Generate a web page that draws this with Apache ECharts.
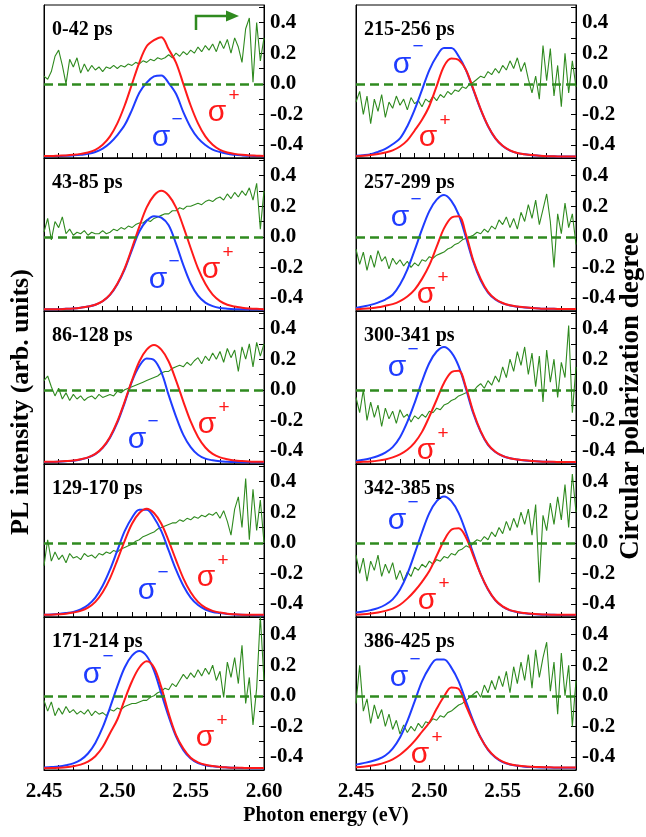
<!DOCTYPE html>
<html>
<head>
<meta charset="utf-8">
<script src="https://cdn.jsdelivr.net/npm/echarts@6/dist/echarts.min.js"></script>
<style>
html,body{margin:0;padding:0;background:#fff;overflow:hidden}
#chart{width:646px;height:837px}
</style>
</head>
<body>
<div id="chart"></div>
<script>
// ---------------- DATA ----------------
const energyPL = [2.450,2.455,2.460,2.465,2.470,2.475,2.480,2.485,2.490,2.495,2.500,2.505,2.510,2.515,2.520,2.525,2.530,2.535,2.540,2.545,2.550,2.555,2.560,2.565,2.570,2.575,2.580,2.585,2.590,2.595,2.600];
const energyCPD = [2.4500,2.4525,2.4550,2.4575,2.4600,2.4625,2.4650,2.4675,2.4700,2.4725,2.4750,2.4775,2.4800,2.4825,2.4850,2.4875,2.4900,2.4925,2.4950,2.4975,2.5000,2.5025,2.5050,2.5075,2.5100,2.5125,2.5150,2.5175,2.5200,2.5225,2.5250,2.5275,2.5300,2.5325,2.5350,2.5375,2.5400,2.5425,2.5450,2.5475,2.5500,2.5525,2.5550,2.5575,2.5600,2.5625,2.5650,2.5675,2.5700,2.5725,2.5750,2.5775,2.5800,2.5825,2.5850,2.5875,2.5900,2.5925,2.5950,2.5975,2.6000];

const xTickLabels = ['2.45','2.50','2.55','2.60'];
const cpdTickLabels = [-0.4,-0.2,0.0,0.2,0.4];
const cpdMinorTicks = [-0.4,-0.3,-0.2,-0.1,0.0,0.1,0.2,0.3,0.4,0.5];

// 0-42 ps
const plus_0_42  = [0.013,0.013,0.015,0.017,0.021,0.027,0.036,0.053,0.086,0.141,0.226,0.343,0.484,0.624,0.730,0.770,0.790,0.710,0.624,0.484,0.343,0.226,0.141,0.086,0.053,0.036,0.027,0.021,0.017,0.015,0.013];
const minus_0_42 = [0.011,0.012,0.013,0.014,0.017,0.021,0.027,0.039,0.061,0.098,0.150,0.215,0.315,0.427,0.493,0.533,0.540,0.490,0.420,0.300,0.200,0.130,0.085,0.055,0.039,0.027,0.021,0.017,0.014,0.013,0.012];
const cpd_0_42 = [0.05,0.03,0.08,0.18,0.22,0.12,0.00,0.16,0.11,0.17,0.07,0.13,0.08,0.12,0.09,0.11,0.08,0.11,0.10,0.12,0.10,0.12,0.11,0.13,0.12,0.14,0.13,0.15,0.14,0.16,0.15,0.17,0.16,0.17,0.19,0.17,0.20,0.18,0.21,0.19,0.22,0.20,0.24,0.21,0.25,0.22,0.26,0.21,0.28,0.23,0.29,0.20,0.30,0.24,0.14,0.36,0.43,0.01,0.40,0.15,0.30];

// 43-85 ps
const plus_43_85  = [0.012,0.012,0.012,0.014,0.017,0.022,0.029,0.041,0.065,0.107,0.178,0.279,0.412,0.552,0.677,0.755,0.786,0.755,0.677,0.552,0.412,0.279,0.178,0.107,0.065,0.041,0.029,0.022,0.017,0.014,0.012];
const minus_43_85 = [0.011,0.011,0.012,0.014,0.017,0.022,0.029,0.041,0.064,0.105,0.175,0.272,0.400,0.520,0.590,0.620,0.610,0.560,0.440,0.300,0.180,0.100,0.055,0.032,0.020,0.015,0.012,0.011,0.010,0.009,0.009];
const cpd_43_85 = [0.03,0.12,-0.02,0.10,0.06,0.13,0.02,0.05,0.01,0.03,0.02,0.04,0.01,0.03,0.02,0.02,0.04,0.02,0.03,0.05,0.04,0.06,0.05,0.07,0.06,0.08,0.09,0.09,0.11,0.10,0.12,0.13,0.14,0.15,0.15,0.17,0.17,0.19,0.18,0.20,0.20,0.21,0.22,0.21,0.23,0.24,0.23,0.25,0.26,0.24,0.28,0.25,0.29,0.26,0.30,0.27,0.32,0.24,0.35,0.05,0.30];

// 86-128 ps
const plus_86_128  = [0.014,0.014,0.016,0.019,0.023,0.031,0.043,0.066,0.108,0.177,0.278,0.408,0.547,0.670,0.747,0.778,0.747,0.670,0.547,0.408,0.278,0.177,0.108,0.066,0.043,0.031,0.023,0.019,0.016,0.014,0.014];
const minus_86_128 = [0.013,0.013,0.015,0.018,0.022,0.030,0.042,0.064,0.105,0.172,0.270,0.400,0.540,0.640,0.690,0.680,0.600,0.450,0.310,0.190,0.110,0.060,0.035,0.024,0.018,0.015,0.013,0.012,0.011,0.011,0.011];
const cpd_86_128 = [0.06,0.09,0.02,-0.04,0.01,-0.06,-0.02,-0.07,-0.03,-0.06,-0.04,-0.07,-0.05,-0.04,-0.06,-0.03,-0.05,-0.04,-0.03,-0.04,-0.01,-0.02,0.00,0.01,0.02,0.03,0.04,0.05,0.06,0.07,0.08,0.09,0.11,0.12,0.12,0.14,0.15,0.16,0.15,0.18,0.16,0.19,0.21,0.17,0.22,0.19,0.24,0.20,0.25,0.18,0.27,0.21,0.26,0.12,0.28,0.20,0.30,0.15,0.31,0.22,0.30];

// 129-170 ps
const plus_129_170  = [0.014,0.015,0.018,0.022,0.029,0.040,0.061,0.099,0.162,0.253,0.372,0.498,0.610,0.680,0.708,0.680,0.610,0.498,0.372,0.253,0.162,0.099,0.061,0.040,0.029,0.022,0.018,0.015,0.014,0.014,0.014];
const minus_129_170 = [0.014,0.016,0.020,0.026,0.033,0.049,0.078,0.127,0.204,0.309,0.435,0.561,0.649,0.701,0.701,0.649,0.561,0.435,0.309,0.204,0.127,0.078,0.049,0.033,0.026,0.020,0.016,0.014,0.013,0.012,0.012];
const cpd_129_170 = [-0.15,0.02,-0.12,-0.06,-0.11,-0.08,-0.13,-0.07,-0.10,-0.09,-0.11,-0.07,-0.09,-0.08,-0.10,-0.07,-0.08,-0.06,-0.07,-0.05,-0.06,-0.04,-0.03,-0.02,-0.01,0.01,0.02,0.04,0.05,0.06,0.07,0.09,0.10,0.11,0.12,0.13,0.13,0.15,0.14,0.16,0.15,0.17,0.16,0.18,0.17,0.19,0.18,0.20,0.16,0.21,0.14,0.05,0.22,0.30,0.10,0.42,0.02,0.35,0.08,0.28,0.00];

// 171-214 ps
const plus_171_214  = [0.012,0.013,0.015,0.018,0.024,0.035,0.055,0.090,0.150,0.240,0.330,0.460,0.580,0.670,0.710,0.670,0.540,0.370,0.230,0.140,0.080,0.050,0.034,0.026,0.020,0.017,0.015,0.014,0.013,0.013,0.013];
const minus_171_214 = [0.016,0.019,0.023,0.031,0.043,0.066,0.108,0.177,0.278,0.408,0.547,0.670,0.747,0.778,0.745,0.650,0.500,0.350,0.220,0.130,0.075,0.045,0.031,0.024,0.019,0.016,0.014,0.013,0.012,0.012,0.012];
const cpd_171_214 = [-0.03,-0.10,-0.04,-0.13,-0.08,-0.12,-0.07,-0.11,-0.09,-0.12,-0.10,-0.12,-0.09,-0.13,-0.10,-0.12,-0.11,-0.13,-0.09,-0.10,-0.08,-0.09,-0.07,-0.06,-0.05,-0.05,-0.04,-0.03,-0.03,-0.01,0.00,0.02,0.03,0.05,0.04,0.08,0.06,0.10,0.14,0.11,0.15,0.12,0.17,0.13,0.18,0.14,0.20,0.10,0.16,-0.01,0.22,0.12,0.25,0.08,0.33,-0.05,0.12,-0.19,0.05,0.52,0.10];

// 215-256 ps
const plus_215_256  = [0.011,0.014,0.019,0.026,0.036,0.050,0.075,0.115,0.180,0.250,0.340,0.470,0.600,0.650,0.640,0.575,0.450,0.320,0.210,0.130,0.080,0.050,0.033,0.025,0.019,0.015,0.012,0.011,0.010,0.009,0.009];
const minus_215_256 = [0.015,0.018,0.024,0.040,0.060,0.090,0.128,0.208,0.316,0.445,0.575,0.665,0.719,0.719,0.665,0.575,0.445,0.316,0.208,0.128,0.078,0.048,0.032,0.024,0.018,0.015,0.012,0.011,0.010,0.009,0.009];
const cpd_215_256 = [-0.12,-0.05,-0.20,-0.08,-0.26,-0.10,-0.18,-0.07,-0.22,-0.12,-0.16,-0.08,-0.14,-0.10,-0.17,-0.09,-0.13,-0.11,-0.15,-0.10,-0.12,-0.08,-0.11,-0.07,-0.09,-0.05,-0.07,-0.04,-0.05,-0.02,-0.03,0.00,0.01,0.03,0.05,0.04,0.08,0.06,0.10,0.07,0.12,0.09,0.15,0.10,0.17,0.08,0.14,0.03,-0.06,0.05,-0.10,0.25,0.02,0.23,-0.08,0.12,-0.15,0.20,-0.06,0.15,-0.02];

// 257-299 ps
const plus_257_299  = [0.012,0.014,0.018,0.024,0.034,0.045,0.065,0.095,0.140,0.210,0.300,0.420,0.540,0.610,0.620,0.500,0.330,0.210,0.125,0.078,0.052,0.037,0.029,0.024,0.019,0.016,0.014,0.014,0.013,0.013,0.013];
const minus_257_299 = [0.020,0.030,0.040,0.055,0.075,0.106,0.173,0.271,0.398,0.533,0.653,0.728,0.758,0.720,0.630,0.480,0.320,0.200,0.120,0.075,0.050,0.036,0.028,0.023,0.019,0.016,0.014,0.014,0.013,0.013,0.013];
const cpd_257_299 = [-0.08,-0.18,-0.10,-0.22,-0.12,-0.20,-0.09,-0.16,-0.13,-0.21,-0.14,-0.18,-0.15,-0.19,-0.16,-0.20,-0.17,-0.19,-0.15,-0.16,-0.13,-0.14,-0.12,-0.11,-0.10,-0.08,-0.07,-0.05,-0.04,-0.02,-0.01,0.00,0.01,0.03,0.02,0.05,0.03,0.07,0.05,0.11,0.08,0.13,0.06,0.12,0.05,0.16,0.10,0.21,0.12,0.24,0.08,0.18,0.28,0.10,-0.20,0.15,0.02,0.22,0.06,0.15,-0.05];

// 300-341 ps
const plus_300_341  = [0.012,0.014,0.017,0.022,0.030,0.043,0.063,0.093,0.140,0.210,0.310,0.420,0.530,0.600,0.610,0.500,0.340,0.215,0.128,0.080,0.053,0.038,0.030,0.024,0.020,0.017,0.015,0.014,0.013,0.013,0.013];
const minus_300_341 = [0.020,0.028,0.038,0.052,0.074,0.110,0.175,0.275,0.400,0.540,0.660,0.735,0.765,0.730,0.640,0.490,0.330,0.210,0.125,0.078,0.052,0.037,0.029,0.023,0.019,0.016,0.014,0.013,0.013,0.012,0.012];
const cpd_300_341 = [-0.05,-0.15,0.00,-0.20,-0.08,-0.18,-0.10,-0.24,-0.12,-0.19,-0.14,-0.22,-0.13,-0.18,-0.16,-0.21,-0.17,-0.19,-0.16,-0.18,-0.14,-0.15,-0.12,-0.13,-0.10,-0.09,-0.07,-0.06,-0.04,-0.03,-0.02,0.00,-0.01,0.02,0.04,0.01,0.06,0.03,0.09,0.05,0.15,0.08,0.20,0.12,0.25,0.16,0.28,0.10,0.24,0.02,0.22,-0.08,0.26,0.05,0.20,-0.05,0.18,0.08,0.42,-0.15,0.15];

// 342-385 ps
const plus_342_385  = [0.015,0.018,0.023,0.030,0.040,0.055,0.080,0.120,0.170,0.230,0.300,0.400,0.500,0.570,0.580,0.520,0.400,0.280,0.182,0.111,0.069,0.045,0.033,0.026,0.021,0.018,0.016,0.015,0.014,0.014,0.014];
const minus_342_385 = [0.030,0.036,0.045,0.058,0.080,0.115,0.180,0.281,0.414,0.554,0.679,0.757,0.788,0.757,0.679,0.554,0.414,0.281,0.180,0.109,0.067,0.043,0.031,0.024,0.019,0.016,0.014,0.014,0.013,0.013,0.013];
const cpd_342_385 = [-0.08,-0.20,-0.10,-0.25,-0.12,-0.18,-0.08,-0.22,-0.14,-0.20,-0.13,-0.24,-0.18,-0.25,-0.19,-0.22,-0.16,-0.18,-0.14,-0.16,-0.12,-0.14,-0.11,-0.12,-0.09,-0.10,-0.07,-0.08,-0.05,-0.04,-0.02,-0.03,0.00,0.02,0.01,0.04,0.02,0.07,0.04,0.10,0.06,0.14,0.08,0.16,0.10,0.20,0.12,0.22,0.05,0.25,-0.26,0.18,0.08,0.26,0.12,0.30,0.15,0.38,0.10,0.45,0.20];

// 386-425 ps
const plus_386_425  = [0.018,0.022,0.028,0.036,0.050,0.070,0.100,0.140,0.190,0.250,0.310,0.400,0.480,0.540,0.530,0.420,0.310,0.210,0.135,0.085,0.055,0.038,0.030,0.024,0.021,0.019,0.018,0.017,0.016,0.016,0.016];
const minus_386_425 = [0.035,0.045,0.055,0.070,0.095,0.140,0.212,0.320,0.449,0.579,0.669,0.723,0.723,0.669,0.579,0.449,0.320,0.212,0.132,0.082,0.052,0.036,0.028,0.022,0.019,0.017,0.016,0.015,0.015,0.014,0.014];
const cpd_386_425 = [-0.05,0.20,-0.10,-0.02,-0.18,-0.06,-0.15,-0.09,-0.20,-0.12,-0.22,-0.16,-0.25,-0.19,-0.24,-0.20,-0.23,-0.18,-0.21,-0.17,-0.18,-0.15,-0.16,-0.13,-0.14,-0.11,-0.10,-0.08,-0.06,-0.05,-0.03,-0.01,0.01,0.03,-0.01,0.07,0.02,0.10,0.04,0.13,0.06,0.16,0.02,0.19,0.08,0.22,0.10,0.27,0.05,0.30,0.12,0.25,0.35,0.03,0.22,-0.12,0.28,0.00,0.20,-0.20,0.10];

const panelLabels = ['0-42 ps','43-85 ps','86-128 ps','129-170 ps','171-214 ps','215-256 ps','257-299 ps','300-341 ps','342-385 ps','386-425 ps'];
const plusSeries  = [plus_0_42,plus_43_85,plus_86_128,plus_129_170,plus_171_214,plus_215_256,plus_257_299,plus_300_341,plus_342_385,plus_386_425];
const minusSeries = [minus_0_42,minus_43_85,minus_86_128,minus_129_170,minus_171_214,minus_215_256,minus_257_299,minus_300_341,minus_342_385,minus_386_425];
const cpdSeries   = [cpd_0_42,cpd_43_85,cpd_86_128,cpd_129_170,cpd_171_214,cpd_215_256,cpd_257_299,cpd_300_341,cpd_342_385,cpd_386_425];

// ---------------- LAYOUT / STYLE ----------------
const RED = '#ff1a1a', BLUE = '#1f3cff', GREEN = '#2f8a1f';
const SERIF = '"Liberation Serif","Times New Roman",serif';
const SANS = '"Liberation Sans",Arial,sans-serif';
const PANEL_W = 220, PANEL_H = 153, TOP0 = 5;
const COL_LEFT = [44, 356];
// sigma label positions (pixel, annotation) for each panel: [minus x,y, plus x,y]
const sigmaPos = [
  [161,138, 217,113],
  [158,280, 211,270],
  [137,440, 207,425],
  [147,591, 206,578],
  [ 92,675, 205,738],
  [402, 65, 428,138],
  [400,218, 426,295],
  [397,368, 426,451],
  [397,521, 427,601],
  [399,678, 420,755]
];

const grids = [], xAxes = [], yAxes = [], series = [], graphics = [];

panelLabels.forEach((lab, i) => {
  const col = i < 5 ? 0 : 1;
  const row = i % 5;
  const left = COL_LEFT[col];
  const top = TOP0 + PANEL_H * row;
  grids.push({left: left, top: top, width: PANEL_W, height: PANEL_H, show: true,
    borderColor: '#000', borderWidth: 1, backgroundColor: 'transparent'});
  xAxes.push({
    gridIndex: i, type: 'value', min: 2.45, max: 2.60, interval: 0.01,
    axisLine: {show: true, onZero: false, lineStyle: {color: '#000', width: 1}},
    axisTick: {show: true, inside: true, length: 5, lineStyle: {color: '#000', width: 1}},
    axisLabel: {show: row === 4, margin: 11, color: '#000', fontFamily: SERIF, fontWeight: 'bold', fontSize: 21,
      showMinLabel: true, showMaxLabel: true, hideOverlap: false,
      formatter: function (v) {
        const s = v.toFixed(2);
        return xTickLabels.indexOf(s) >= 0 ? s : '';
      }},
    splitLine: {show: false}
  });
  yAxes.push({
    gridIndex: i, type: 'value', min: 0, max: 1, position: 'left',
    axisLine: {show: true, onZero: false, lineStyle: {color: '#000', width: 1}},
    axisTick: {show: false}, axisLabel: {show: false}, splitLine: {show: false}
  });
  yAxes.push({
    gridIndex: i, type: 'value', min: -0.485, max: 0.515, position: 'right',
    axisLine: {show: true, onZero: false, lineStyle: {color: '#000', width: 1}},
    axisTick: {show: true, inside: true, length: 5, customValues: cpdMinorTicks, lineStyle: {color: '#000'}},
    axisLabel: {show: true, customValues: cpdTickLabels, margin: 6, color: '#000', fontFamily: SERIF, fontWeight: 'bold', fontSize: 21,
      formatter: function (v) { return (Math.abs(v) < 1e-9 ? 0 : v).toFixed(1); }},
    splitLine: {show: false}
  });

  series.push({
    type: 'line', xAxisIndex: i, yAxisIndex: 2 * i + 1, symbol: 'none', silent: true, z: 2,
    data: energyCPD.map((e, k) => [e, cpdSeries[i][k]]),
    lineStyle: {color: GREEN, width: 1.1},
    markLine: {silent: true, symbol: 'none', label: {show: false}, animation: false,
      lineStyle: {color: GREEN, type: [9, 5], width: 2.5}, data: [{yAxis: 0}]}
  });
  series.push({
    type: 'line', xAxisIndex: i, yAxisIndex: 2 * i, symbol: 'none', silent: true, z: 3, smooth: 0.35,
    data: energyPL.map((e, k) => [e, minusSeries[i][k]]),
    lineStyle: {color: BLUE, width: 2}
  });
  series.push({
    type: 'line', xAxisIndex: i, yAxisIndex: 2 * i, symbol: 'none', silent: true, z: 4, smooth: 0.35,
    data: energyPL.map((e, k) => [e, plusSeries[i][k]]),
    lineStyle: {color: RED, width: 2}
  });

  // panel time label
  graphics.push({type: 'text', x: left + 8, y: top + 25, z: 50,
    style: {text: lab, font: 'bold 20px ' + SERIF, fill: '#000', textAlign: 'left', textVerticalAlign: 'middle', align: 'left', verticalAlign: 'middle'}});
  // sigma labels
  const sp = sigmaPos[i];
  graphics.push({type: 'text', x: sp[0], y: sp[1], z: 50,
    style: {text: 'σ', font: '30px ' + SANS, fill: BLUE, textAlign: 'center', textVerticalAlign: 'middle', align: 'center', verticalAlign: 'middle'}});
  graphics.push({type: 'text', x: sp[0] + 16, y: sp[1] - 18, z: 50,
    style: {text: '\u2212', font: '19px ' + SANS, fill: BLUE, textAlign: 'center', textVerticalAlign: 'middle', align: 'center', verticalAlign: 'middle'}});
  graphics.push({type: 'text', x: sp[2], y: sp[3], z: 50,
    style: {text: 'σ', font: '30px ' + SANS, fill: RED, textAlign: 'center', textVerticalAlign: 'middle', align: 'center', verticalAlign: 'middle'}});
  graphics.push({type: 'text', x: sp[2] + 17, y: sp[3] - 17, z: 50,
    style: {text: '+', font: '19px ' + SANS, fill: RED, textAlign: 'center', textVerticalAlign: 'middle', align: 'center', verticalAlign: 'middle'}});
});

// arrow pointing to right axis in first panel
graphics.push({type: 'polyline', z: 50, shape: {points: [[196, 30], [196, 16], [229, 16]]},
  style: {stroke: GREEN, lineWidth: 2.5, fill: null}});
graphics.push({type: 'polygon', z: 50, shape: {points: [[226, 10.5], [239, 16], [226, 21.5]]},
  style: {fill: GREEN}});

// axis titles
graphics.push({type: 'text', x: 21, y: 402, rotation: Math.PI / 2, z: 50,
  style: {text: 'PL intensity (arb. units)', font: 'bold 26px ' + SERIF, fill: '#000', textAlign: 'center', textVerticalAlign: 'middle', align: 'center', verticalAlign: 'middle'}});
graphics.push({type: 'text', x: 631, y: 396, rotation: Math.PI / 2, z: 50,
  style: {text: 'Circular polarization degree', font: 'bold 27px ' + SERIF, fill: '#000', textAlign: 'center', textVerticalAlign: 'middle', align: 'center', verticalAlign: 'middle'}});
graphics.push({type: 'text', x: 326, y: 816, z: 50,
  style: {text: 'Photon energy (eV)', font: 'bold 20px ' + SERIF, fill: '#000', textAlign: 'center', textVerticalAlign: 'middle', align: 'center', verticalAlign: 'middle'}});

const chart = echarts.init(document.getElementById('chart'), null, {renderer: 'canvas'});
chart.setOption({
  animation: false,
  backgroundColor: '#fff',
  grid: grids,
  xAxis: xAxes,
  yAxis: yAxes,
  series: series,
  graphic: graphics
});
</script>
</body>
</html>
